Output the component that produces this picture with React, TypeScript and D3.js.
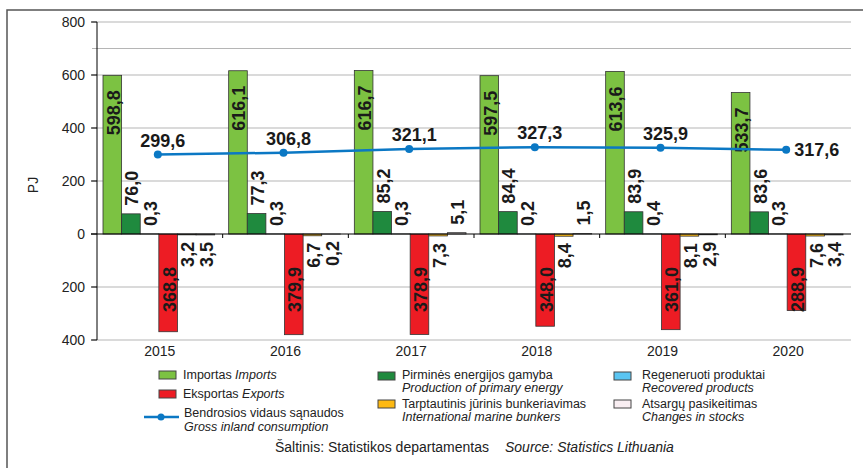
import React from 'react';
import * as d3 from 'd3';

// chart values (PJ)
const years = ['2015', '2016', '2017', '2018', '2019', '2020'];
const imports = [598.8, 616.1, 616.7, 597.5, 613.6, 533.7];
const production = [76.0, 77.3, 85.2, 84.4, 83.9, 83.6];
const recovered = [0.3, 0.3, 0.3, 0.2, 0.4, 0.3];
const exportsPJ = [-368.8, -379.9, -378.9, -348.0, -361.0, -288.9];
const bunkers = [-3.2, -6.7, -7.3, -8.4, -8.1, -7.6];
const stocks = [-3.5, -0.2, 5.1, 1.5, -2.9, -3.4];
const gross = [299.6, 306.8, 321.1, 327.3, 325.9, 317.6];

const yTicks = [-400, -200, 0, 200, 400, 600, 800];
const gridValues = [-400, -200, 200, 400, 600, 700, 800];

const FONT = '"Liberation Sans", Arial, sans-serif';

type Series = { key: string; values: number[]; color: string; label: 'top' | 'base' | 'out' };

const series: Series[] = [
  { key: 'imports', values: imports, color: '#7cc242', label: 'top' },
  { key: 'production', values: production, color: '#1f8a3e', label: 'out' },
  { key: 'recovered', values: recovered, color: '#5bc5f2', label: 'out' },
  { key: 'exports', values: exportsPJ, color: '#ed1c24', label: 'base' },
  { key: 'bunkers', values: bunkers, color: '#fdb913', label: 'out' },
  { key: 'stocks', values: stocks, color: '#f9eef2', label: 'out' },
];

const fmt = (v: number) => d3.format('.1f')(Math.abs(v)).replace('.', ',');

export default function App() {
  const width = 863;
  const height = 468;
  const plot = { left: 97, right: 851, top: 22, bottom: 340 };

  const x0 = d3.scaleBand<string>().domain(years).range([plot.left, plot.right]);
  const x1 = d3.scaleBand<string>()
    .domain(series.map(s => s.key))
    .range([6, x0.bandwidth() - 8]);
  const y = d3.scaleLinear().domain([-400, 800]).range([plot.bottom, plot.top]);

  const px = (i: number) => (x0(years[i]) as number) + x0.bandwidth() / 2 - 2;
  const line = d3.line<number>()
    .x((d, i) => px(i))
    .y(d => y(d));

  const lineColor = '#0b78c4';
  const bw = x1.bandwidth();

  return (
    <svg width={width} height={height} style={{ position: 'absolute', left: 0, top: 0, background: '#fff' }}
         fontFamily={FONT}>
      {/* frame */}
      <path d={`M7,${height} L7,10 L${width},10`} fill="none" stroke="#555" strokeWidth={1.5} />

      {/* gridlines */}
      {gridValues.map(v => (
        <line key={'g' + v} x1={plot.left - 5} x2={plot.right} y1={y(v)} y2={y(v)}
              stroke="#b5b5b5" strokeWidth={1.2} />
      ))}

      {/* y axis */}
      <line x1={plot.left} x2={plot.left} y1={plot.top} y2={plot.bottom} stroke="#000" strokeWidth={1} />
      {yTicks.map(v => (
        <g key={'t' + v}>
          <line x1={plot.left - 6} x2={plot.left} y1={y(v)} y2={y(v)} stroke="#000" />
          <text x={plot.left - 12} y={y(v)} dy="0.36em" textAnchor="end" fontSize={14} fill="#222">
            {Math.abs(v)}
          </text>
        </g>
      ))}
      <text transform={`translate(38,${(plot.top + plot.bottom) / 2 + 4}) rotate(-90)`} textAnchor="middle"
            fontSize={14} fill="#222">PJ</text>

      {/* bars */}
      {years.map((yr, i) => (
        <g key={yr} transform={`translate(${x0(yr)},0)`}>
          {series.map(s => {
            const v = s.values[i];
            const bx = x1(s.key) as number;
            const top = y(Math.max(0, v));
            const h = Math.abs(y(v) - y(0));
            return (
              <rect key={s.key} x={bx} y={top} width={bw} height={h}
                    fill={s.color} stroke="#333" strokeWidth={0.8} />
            );
          })}
        </g>
      ))}

      {/* zero line and band ticks */}
      <line x1={plot.left - 6} x2={plot.right} y1={y(0)} y2={y(0)} stroke="#000" strokeWidth={1.2} />
      {years.slice(1).map(yr => (
        <line key={'bt' + yr} x1={x0(yr)} x2={x0(yr)} y1={y(0)} y2={y(0) + 4} stroke="#000" />
      ))}

      {/* bar labels */}
      {years.map((yr, i) => (
        <g key={'l' + yr} transform={`translate(${x0(yr)},0)`}>
          {series.map(s => {
            const v = s.values[i];
            const cx = (x1(s.key) as number) + bw / 2 + 1;
            let ly: number;
            let anchor: string;
            if (s.label === 'top') {
              ly = y(v) + 15;
              anchor = 'end';
            } else if (s.label === 'base') {
              ly = y(0) + 33;
              anchor = 'end';
            } else if (v >= 0) {
              ly = y(v) - 8;
              anchor = 'start';
            } else {
              ly = y(v) + 7;
              anchor = 'end';
            }
            return (
              <text key={s.key} transform={`translate(${cx},${ly}) rotate(-90)`} textAnchor={anchor}
                    dy="0.36em" fontSize={18} fontWeight="bold" fill="#1a1a1a">
                {fmt(v)}
              </text>
            );
          })}
        </g>
      ))}

      {/* gross inland consumption */}
      <path d={line(gross) as string} fill="none" stroke={lineColor} strokeWidth={2.5} />
      {gross.map((v, i) => {
        const last = i === gross.length - 1;
        return (
          <g key={'p' + i}>
            <circle cx={px(i)} cy={y(v)} r={4} fill={lineColor} />
            <text x={last ? px(i) + 8 : px(i) + 5} y={last ? y(v) : y(v) - 8} dy={last ? '0.36em' : 0}
                  textAnchor={last ? 'start' : 'middle'} fontSize={18} fontWeight="bold" fill="#1a1a1a">
              {fmt(v)}
            </text>
          </g>
        );
      })}

      {/* x labels */}
      {years.map(yr => (
        <text key={'x' + yr} x={(x0(yr) as number) + x0.bandwidth() / 2} y={356} textAnchor="middle"
              fontSize={14} fill="#222">{yr}</text>
      ))}

      {/* legend */}
      <g fontSize={12.5} fill="#222">
        <rect x={159} y={371} width={17} height={8} fill="#7cc242" stroke="#444" />
        <text x={183} y={379}>Importas <tspan fontStyle="italic">Imports</tspan></text>
        <rect x={159} y={390} width={17} height={8} fill="#ed1c24" stroke="#444" />
        <text x={183} y={398}>Eksportas <tspan fontStyle="italic">Exports</tspan></text>
        <line x1={144} x2={179} y1={417} y2={417} stroke={lineColor} strokeWidth={2.5} />
        <circle cx={161} cy={417} r={3.5} fill={lineColor} />
        <text x={184} y={417}>Bendrosios vidaus sąnaudos</text>
        <text x={184} y={431} fontStyle="italic">Gross inland consumption</text>

        <rect x={378} y={372} width={17} height={8} fill="#1f8a3e" stroke="#444" />
        <text x={402} y={379}>Pirminės energijos gamyba</text>
        <text x={402} y={392} fontStyle="italic">Production of primary energy</text>
        <rect x={378} y={400} width={17} height={8} fill="#fdb913" stroke="#444" />
        <text x={402} y={408}>Tarptautinis jūrinis bunkeriavimas</text>
        <text x={402} y={421} fontStyle="italic">International marine bunkers</text>

        <rect x={614} y={372} width={17} height={8} fill="#5bc5f2" stroke="#444" />
        <text x={642} y={379}>Regeneruoti produktai</text>
        <text x={642} y={392} fontStyle="italic">Recovered products</text>
        <rect x={614} y={400} width={17} height={8} fill="#f9eef2" stroke="#444" />
        <text x={642} y={408}>Atsargų pasikeitimas</text>
        <text x={642} y={421} fontStyle="italic">Changes in stocks</text>
      </g>

      {/* source */}
      <text x={275} y={452} fontSize={14} fill="#222">
        Šaltinis: Statistikos departamentas<tspan dx={16} fontStyle="italic">Source: Statistics Lithuania</tspan>
      </text>
    </svg>
  );
}
